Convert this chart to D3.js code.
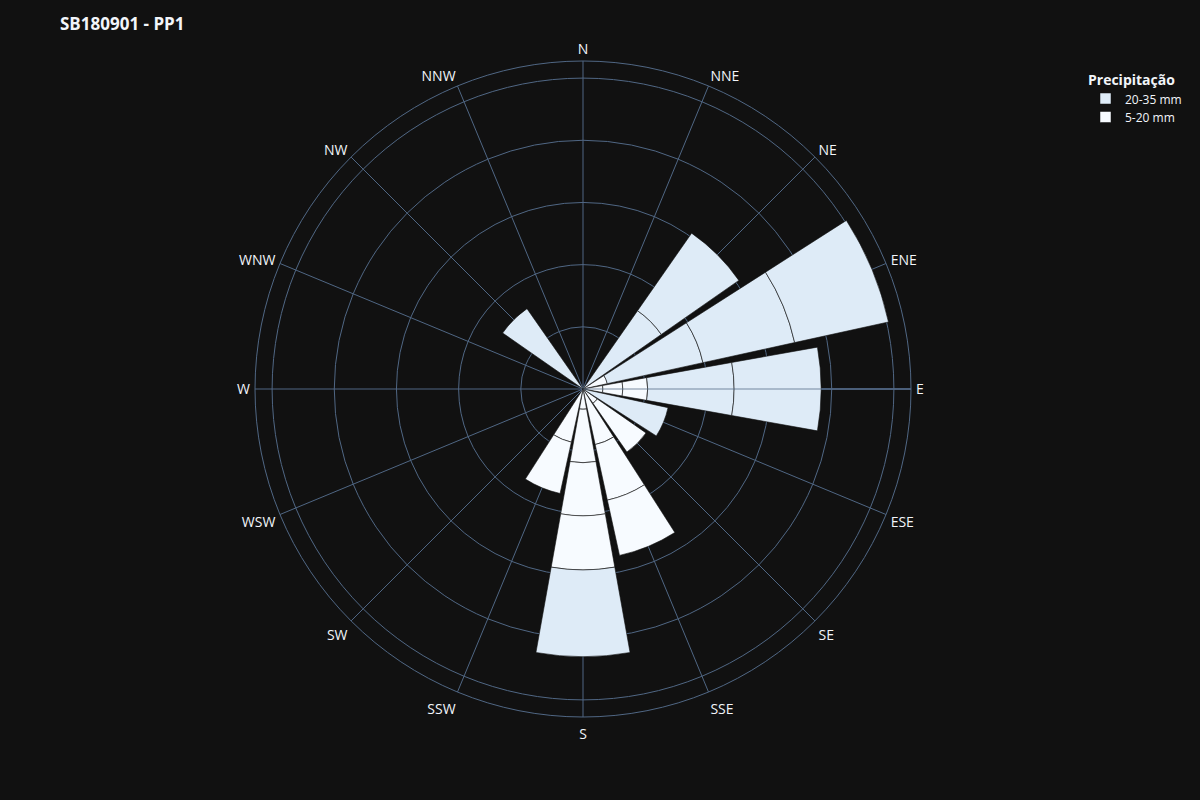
<!DOCTYPE html>
<html>
<head>
<meta charset="utf-8">
<script src="https://cdn.jsdelivr.net/npm/d3@7"></script>
<style>
  html, body { margin: 0; padding: 0; background: #111111; }
  svg { display: block; font-family: "Open Sans", "Noto Sans", sans-serif; }
</style>
</head>
<body>
<svg id="chart" width="1200" height="800"></svg>
<script>
// ---- data ----
const titleText = "SB180901 - PP1";
const legendTitle = "Precipitação";
const directions = ["N","NNE","NE","ENE","E","ESE","SE","SSE","S","SSW","SW","WSW","W","WNW","NW","NNW"];
const radialTicks = [2, 4, 6, 8, 10];
const radialMax = 10.55;

// trace 1: 5-20 mm (each entry is one stacked bar segment)
const name1 = "5-20 mm";
const dirs1 = ["ENE","E","E","E","SE","SE","SSE","SSE","SSE","S","S","S","S","SSW","SSW"];
const vals1 = [0.80, 0.64, 0.64, 0.80, 0.56, 1.91, 1.83, 1.83, 1.82, 0.65, 1.72, 1.71, 1.74, 1.75, 1.69];

// trace 2: 20-35 mm
const name2 = "20-35 mm";
const dirs2 = ["NE","NE","ENE","ENE","ENE","E","E","ESE","S","NW"];
const vals2 = [3.07, 3.04, 3.15, 3.02, 3.09, 2.78, 2.80, 2.80, 2.79, 3.15];

const color1 = "#f7fbff";
const color2 = "#deebf7";

// ---- layout ----
const svg = d3.select("#chart");
const W = 1200, H = 800;
const cx = 583, cy = 389, R = 328;
const gridColor = "#506784";
const textColor = "#f2f5fa";

svg.append("rect").attr("width", W).attr("height", H).attr("fill", "#111111");

const r = d3.scaleLinear().domain([0, radialMax]).range([0, R]);
const angle = d3.scalePoint().domain(directions).range([0, 360 - 360 / directions.length]);
const step = 360 / directions.length;
const barWidth = step * 0.9;
const toRad = d => d * Math.PI / 180;

const g = svg.append("g").attr("transform", `translate(${cx},${cy})`);

// radial grid circles
g.selectAll("circle.grid").data(radialTicks).enter().append("circle")
  .attr("r", d => r(d)).attr("fill", "none").attr("stroke", gridColor).attr("stroke-width", 1);

// angular grid lines
g.selectAll("line.agrid").data(directions).enter().append("line")
  .attr("x1", 0).attr("y1", 0)
  .attr("x2", d => R * Math.sin(toRad(angle(d))))
  .attr("y2", d => -R * Math.cos(toRad(angle(d))))
  .attr("stroke", gridColor).attr("stroke-width", 1);

// outer circle
g.append("circle").attr("r", R).attr("fill", "none").attr("stroke", gridColor).attr("stroke-width", 1);

// radial axis line (below)
g.append("line").attr("x1", 0).attr("y1", 0).attr("x2", R).attr("y2", 0)
  .attr("stroke", gridColor).attr("stroke-width", 1.5);

// stacked segments
const base = {};
directions.forEach(d => base[d] = 0);
const segs = [];
[[dirs1, vals1, color1], [dirs2, vals2, color2]].forEach(([ds, vs, col]) => {
  ds.forEach((d, i) => {
    const b = base[d];
    segs.push({dir: d, r0: b, r1: b + vs[i], color: col});
    base[d] = b + vs[i];
  });
});

const arc = d3.arc()
  .innerRadius(d => r(d.r0))
  .outerRadius(d => r(d.r1))
  .startAngle(d => toRad(angle(d.dir) - barWidth / 2))
  .endAngle(d => toRad(angle(d.dir) + barWidth / 2));

g.selectAll("path.seg").data(segs).enter().append("path")
  .attr("d", arc).attr("fill", d => d.color)
  .attr("stroke", "#111111").attr("stroke-width", 0.6);

// radial axis line (above)
g.append("line").attr("x1", 0).attr("y1", 0).attr("x2", R).attr("y2", 0)
  .attr("stroke", gridColor).attr("stroke-width", 1.5).attr("stroke-opacity", 0.5);

// angular labels
const fs = 14, pad = 4.5;
g.selectAll("text.alab").data(directions).enter().append("text")
  .attr("x", d => (R + pad + 0.5) * Math.sin(toRad(angle(d))))
  .attr("y", d => {
    const a = toRad(angle(d));
    const up = Math.cos(a);              // >0 means upper half
    const ff = up > 0 ? 0.2 : 1.25;
    return -R * up - up * (pad + fs * ff) + Math.abs(Math.sin(a)) * fs * 0.35;
  })
  .attr("text-anchor", d => {
    const s = Math.sin(toRad(angle(d)));
    return s > 0.01 ? "start" : (s < -0.01 ? "end" : "middle");
  })
  .attr("font-size", fs).attr("fill", textColor)
  .text(d => d);

// title
svg.append("text").attr("x", 60).attr("y", 30)
  .attr("font-size", 17).attr("font-weight", "bold").attr("fill", textColor)
  .text(titleText);

// legend (reversed order, as for stacked bars)
const leg = svg.append("g");
leg.append("text").attr("x", 1088).attr("y", 85)
  .attr("font-size", 14).attr("font-weight", "bold").attr("fill", textColor)
  .text(legendTitle);
const items = [{name: name2, color: color2}, {name: name1, color: color1}];
items.forEach((it, i) => {
  const y = 99 + i * 18.5;
  leg.append("rect").attr("x", 1100).attr("y", y - 6).attr("width", 11).attr("height", 11)
    .attr("fill", it.color).attr("stroke", "#111111").attr("stroke-width", 0.5);
  leg.append("text").attr("x", 1125).attr("y", y + 4.5)
    .attr("font-size", 12).attr("fill", textColor).text(it.name);
});
</script>
</body>
</html>
